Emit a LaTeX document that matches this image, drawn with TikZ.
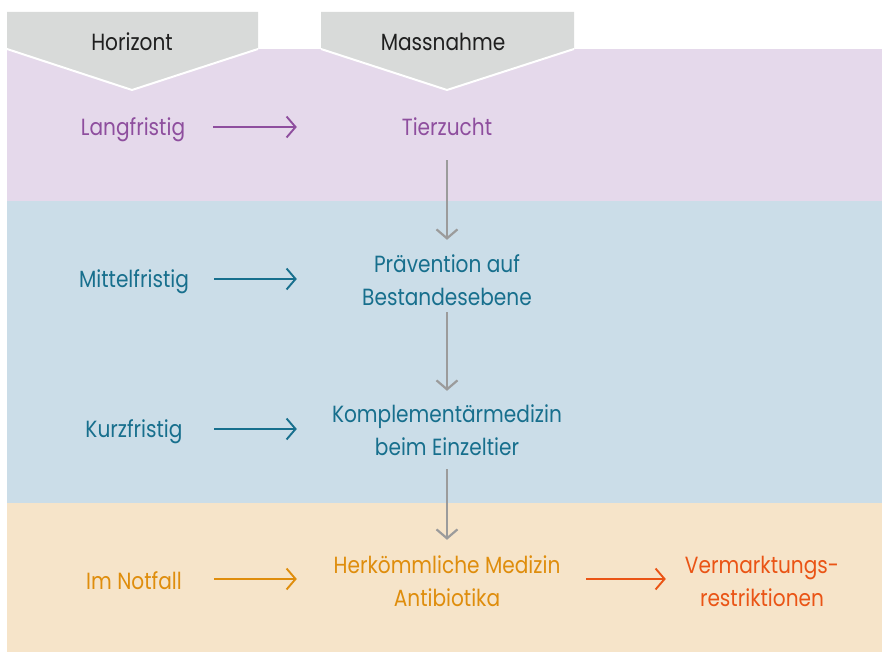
\documentclass[tikz,border=0pt]{standalone}
\usepackage{fontspec}
\setmainfont{Poppins}[FakeStretch=0.86]
\usetikzlibrary{arrows.meta}
\definecolor{bandP}{HTML}{E5D9EB}
\definecolor{bandB}{HTML}{CBDDE8}
\definecolor{bandO}{HTML}{F6E4C9}
\definecolor{hdr}{HTML}{D8DAD9}
\definecolor{purpleT}{HTML}{8E4E9E}
\definecolor{blueT}{HTML}{176F8D}
\definecolor{orangeT}{HTML}{DF8D0C}
\definecolor{redT}{HTML}{EA5415}
\definecolor{grayA}{HTML}{9B9B9B}
\tikzset{
  txt/.style={font=\fontsize{23.4}{33}\selectfont, align=center, inner sep=0pt},
  lbl/.style={txt, minimum width=160pt},
  mid/.style={txt, minimum width=300pt},
  hdrtext/.style={font=\fontsize{23.4}{33}\selectfont, text=black!88, inner sep=0pt},
  harrow/.style={line width=1.9pt, -{Straight Barb[length=9pt,width=21pt,line width=1.9pt]}},
  garrow/.style={draw=grayA, line width=2.2pt, -{Straight Barb[length=9pt,width=21pt,line width=2.2pt]}}
}
\begin{document}
\begin{tikzpicture}[x=1pt,y=-1pt]
\useasboundingbox (0,0) rectangle (882,652);
% bands
\fill[bandP] (7,49) rectangle (882,201);
\fill[bandB] (7,201) rectangle (882,503);
\fill[bandO] (7,503) rectangle (882,652);
% header chevrons
\fill[hdr] (7,12) -- (258,12) -- (258,49) -- (132,90) -- (7,49) -- cycle;
\draw[white, line width=2pt] (7,49) -- (132,90) -- (258,49);
\fill[hdr] (321,12) -- (574,12) -- (574,49) -- (447,90) -- (321,49) -- cycle;
\draw[white, line width=2pt] (321,49) -- (447,90) -- (574,49);
\node[hdrtext] (h1) at (132,42) {Horizont};
\node[hdrtext] (h2) at (443,42) {Massnahme};
% left labels
\node[lbl, text=purpleT] (l1) at (133,129.5) {Langfristig};
\node[lbl, text=blueT] (l2) at (134,281.5) {Mittelfristig};
\node[lbl, text=blueT] (l3) at (134,431.5) {Kurzfristig};
\node[lbl, text=orangeT] (l4) at (134,581) {Im Notfall};
% measures
\node[mid, text=purpleT, minimum height=66pt] (tz) at (447,127) {Tierzucht};
\node[mid, text=blueT, minimum height=80pt] (pv) at (447,280) {Prävention auf\\Bestandesebene};
\node[mid, text=blueT, minimum height=78pt] (km) at (447,430) {Komplementärmedizin\\beim Einzeltier};
\node[mid, text=orangeT, minimum height=82pt] (hm) at (447,581) {Herkömmliche Medizin\\Antibiotika};
\node[txt, text=redT, minimum width=192pt] (vm) at (762,581) {Vermarktungs-\\restriktionen};
% horizontal arrows
\draw[harrow, draw=purpleT] ([yshift=2.5pt]l1.east) -- ([yshift=2.5pt]l1.east -| tz.west);
\draw[harrow, draw=blueT] ([yshift=2.5pt]l2.east) -- ([yshift=2.5pt]l2.east -| pv.west);
\draw[harrow, draw=blueT] ([yshift=2.5pt]l3.east) -- ([yshift=2.5pt]l3.east -| km.west);
\draw[harrow, draw=orangeT] ([yshift=2pt]l4.east) -- ([yshift=2pt]l4.east -| hm.west);
\draw[harrow, draw=redT, shorten <=-11pt] ([yshift=2pt]l4.east -| hm.east) -- ([yshift=2pt]l4.east -| vm.west);
% vertical arrows
\draw[garrow] (tz.south) -- (pv.north);
\draw[garrow, shorten <=-8pt] (pv.south) -- (km.north);
\draw[garrow] (km.south) -- (hm.north);
\end{tikzpicture}
\end{document}
